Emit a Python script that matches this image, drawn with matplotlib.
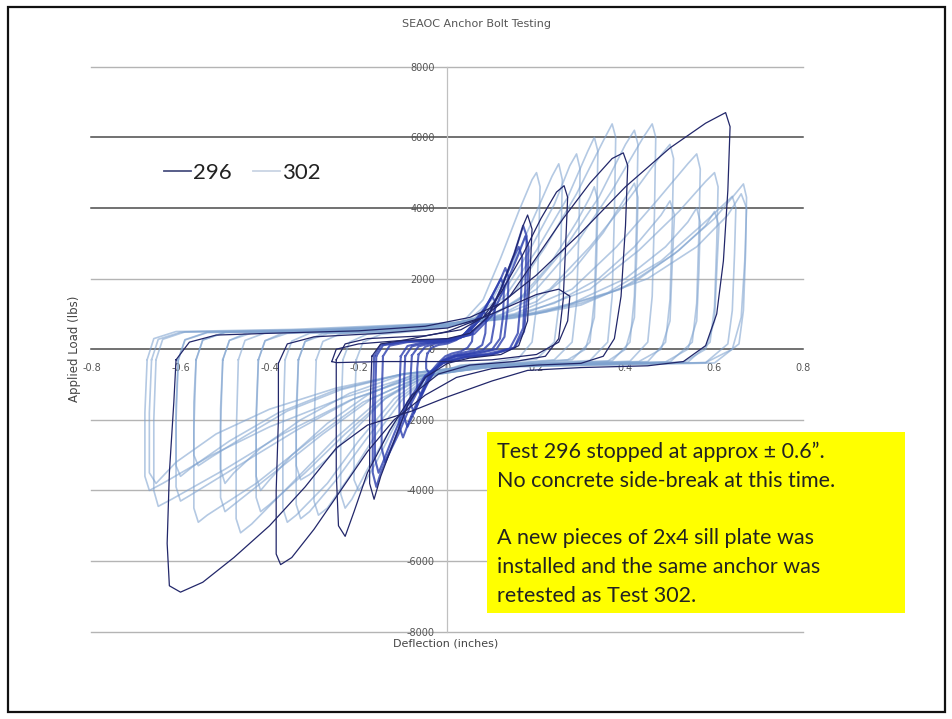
import matplotlib
matplotlib.use("Agg")
import matplotlib.pyplot as plt
from matplotlib.lines import Line2D
from matplotlib.patches import Rectangle

# ---------------- data ----------------
title = "SEAOC Anchor Bolt Testing"
x_label = "Deflection (inches)"
y_label = "Applied Load (lbs)"
x_ticks = [-0.8, -0.6, -0.4, -0.2, 0, 0.2, 0.4, 0.6, 0.8]
x_tick_labels = ["-0.8", "-0.6", "-0.4", "-0.2", "0", "0.2", "0.4", "0.6", "0.8"]
y_ticks = [-8000, -6000, -4000, -2000, 0, 2000, 4000, 6000, 8000]
y_tick_labels = ["-8000", "-6000", "-4000", "-2000", "0", "2000", "4000", "6000", "8000"]
series_names = ["296", "302"]
note_text = ("Test 296 stopped at approx \u00b1 0.6\u201d.\n"
             "No concrete side-break at this time.\n\n"
             "A new pieces of 2x4 sill plate was\n"
             "installed and the same anchor was\n"
             "retested as Test 302.")

# Test 302 : hysteresis loops (deflection in, load lbs)
test302_loops = [
    [(-0.205,-300),(-0.19,200),(-0.15,420),(-0.08,500),(0.0,620),(0.04,850),(0.08,1400),(0.12,2600),(0.16,3900),(0.19,4800),(0.2,5000),(0.208,4600),(0.205,3000),(0.2,1200),(0.19,200),(0.16,-250),(0.1,-380),(0.03,-450),(-0.02,-650),(-0.07,-1200),(-0.12,-2200),(-0.16,-3200),(-0.19,-3850),(-0.2,-4000),(-0.21,-3700),(-0.21,-2000),(-0.205,-300)],
    [(-0.235,-300),(-0.22,200),(-0.18,430),(-0.1,500),(0.0,640),(0.05,850),(0.1,1400),(0.15,2500),(0.2,3900),(0.235,4900),(0.25,5250),(0.258,4800),(0.255,3000),(0.25,1200),(0.24,200),(0.2,-280),(0.12,-380),(0.03,-470),(-0.03,-700),(-0.08,-1300),(-0.13,-2300),(-0.18,-3400),(-0.215,-4250),(-0.23,-4500),(-0.24,-4100),(-0.24,-2200),(-0.235,-300)],
    [(-0.295,-300),(-0.28,220),(-0.24,440),(-0.12,510),(0.0,650),(0.06,880),(0.12,1500),(0.18,2700),(0.24,4100),(0.275,5200),(0.29,5530),(0.298,5100),(0.295,3200),(0.29,1300),(0.28,200),(0.24,-300),(0.15,-400),(0.04,-480),(-0.04,-750),(-0.1,-1400),(-0.16,-2400),(-0.22,-3600),(-0.27,-4500),(-0.29,-4700),(-0.3,-4300),(-0.3,-2300),(-0.295,-300)],
    [(-0.335,-300),(-0.32,220),(-0.28,450),(-0.15,510),(0.0,660),(0.07,900),(0.13,1500),(0.2,2800),(0.27,4300),(0.315,5600),(0.33,6000),(0.338,5600),(0.335,3500),(0.33,1400),(0.32,200),(0.28,-300),(0.18,-400),(0.05,-480),(-0.04,-760),(-0.11,-1400),(-0.18,-2500),(-0.25,-3700),(-0.31,-4600),(-0.33,-4800),(-0.34,-4400),(-0.34,-2300),(-0.335,-300)],
    [(-0.365,-300),(-0.35,230),(-0.31,450),(-0.18,520),(0.0,670),(0.08,920),(0.15,1600),(0.22,2900),(0.29,4400),(0.35,5900),(0.37,6380),(0.378,6000),(0.375,3800),(0.37,1500),(0.36,200),(0.32,-320),(0.2,-400),(0.06,-480),(-0.05,-780),(-0.12,-1400),(-0.2,-2600),(-0.27,-3800),(-0.34,-4700),(-0.36,-4900),(-0.37,-4500),(-0.37,-2400),(-0.365,-300)],
    [(-0.425,-300),(-0.41,240),(-0.37,460),(-0.2,520),(0.0,680),(0.1,950),(0.18,1600),(0.26,2800),(0.34,4300),(0.4,5800),(0.42,6200),(0.428,5800),(0.425,3700),(0.42,1500),(0.41,200),(0.37,-330),(0.22,-410),(0.07,-480),(-0.05,-760),(-0.14,-1400),(-0.23,-2400),(-0.32,-3500),(-0.4,-4400),(-0.42,-4600),(-0.43,-4200),(-0.43,-2200),(-0.425,-300)],
    [(-0.47,-300),(-0.455,250),(-0.41,460),(-0.22,520),(0.0,690),(0.1,950),(0.2,1700),(0.29,3000),(0.37,4500),(0.44,6000),(0.46,6380),(0.468,6000),(0.465,3800),(0.46,1500),(0.45,200),(0.41,-340),(0.25,-420),(0.08,-490),(-0.05,-780),(-0.15,-1400),(-0.25,-2500),(-0.35,-3800),(-0.44,-4950),(-0.465,-5200),(-0.475,-4800),(-0.475,-2500),(-0.47,-300)],
    [(-0.505,-300),(-0.49,250),(-0.45,470),(-0.25,530),(0.0,700),(0.12,980),(0.23,1700),(0.32,2900),(0.41,4300),(0.48,5500),(0.5,5800),(0.508,5400),(0.505,3500),(0.5,1400),(0.49,200),(0.45,-350),(0.28,-420),(0.08,-490),(-0.06,-760),(-0.17,-1400),(-0.28,-2400),(-0.39,-3500),(-0.48,-4400),(-0.5,-4600),(-0.51,-4200),(-0.51,-2200),(-0.505,-300)],
    [(-0.565,-300),(-0.55,260),(-0.5,480),(-0.28,540),(0.0,710),(0.15,1000),(0.28,1700),(0.38,2900),(0.47,4200),(0.54,5250),(0.56,5530),(0.568,5100),(0.565,3300),(0.56,1300),(0.55,200),(0.5,-360),(0.3,-430),(0.09,-500),(-0.06,-780),(-0.19,-1500),(-0.31,-2600),(-0.43,-3800),(-0.54,-4700),(-0.56,-4900),(-0.57,-4500),(-0.57,-2300),(-0.565,-300)],
    [(-0.605,-300),(-0.59,270),(-0.54,480),(-0.3,540),(0.0,720),(0.17,1000),(0.32,1700),(0.43,2800),(0.52,3900),(0.58,4750),(0.6,5000),(0.608,4600),(0.605,3000),(0.6,1200),(0.59,200),(0.54,-370),(0.33,-430),(0.1,-500),(-0.07,-760),(-0.21,-1400),(-0.34,-2300),(-0.47,-3300),(-0.58,-4150),(-0.6,-4300),(-0.61,-3900),(-0.61,-2000),(-0.605,-300)],
    [(-0.655,-300),(-0.64,280),(-0.59,490),(-0.32,550),(0.0,730),(0.2,1000),(0.36,1600),(0.48,2500),(0.57,3500),(0.625,4150),(0.64,4330),(0.648,4000),(0.645,2700),(0.64,1100),(0.63,150),(0.58,-380),(0.35,-440),(0.1,-500),(-0.07,-780),(-0.22,-1450),(-0.37,-2400),(-0.5,-3400),(-0.62,-4250),(-0.65,-4450),(-0.66,-4000),(-0.66,-2000),(-0.655,-300)],
    [(-0.675,-300),(-0.66,300),(-0.61,500),(-0.35,560),(0.0,740),(0.22,1050),(0.39,1700),(0.51,2700),(0.6,3700),(0.65,4450),(0.665,4680),(0.672,4300),(0.67,2800),(0.665,1100),(0.655,150),(0.6,-390),(0.36,-450),(0.1,-510),(-0.08,-760),(-0.24,-1400),(-0.4,-2200),(-0.53,-3000),(-0.64,-3800),(-0.67,-4000),(-0.68,-3600),(-0.68,-1800),(-0.675,-300)],
    [(-0.665,-300),(-0.65,280),(-0.6,480),(-0.3,540),(0.0,700),(0.15,900),(0.3,1300),(0.45,2000),(0.56,2900),(0.63,3800),(0.66,4400),(0.672,4000),(0.668,2500),(0.66,900),(0.64,0),(0.58,-380),(0.3,-430),(0.05,-500),(-0.1,-700),(-0.25,-1100),(-0.4,-1700),(-0.52,-2400),(-0.61,-3200),(-0.655,-3800),(-0.67,-3500),(-0.67,-1800),(-0.665,-300)],
    [(-0.605,-300),(-0.59,260),(-0.54,470),(-0.28,530),(0.0,690),(0.15,880),(0.3,1250),(0.42,1900),(0.52,2800),(0.58,3500),(0.6,3900),(0.61,3500),(0.605,2200),(0.6,800),(0.58,0),(0.53,-370),(0.3,-420),(0.05,-490),(-0.1,-700),(-0.25,-1150),(-0.38,-1800),(-0.49,-2600),(-0.57,-3300),(-0.6,-3600),(-0.61,-3300),(-0.61,-1600),(-0.605,-300)],
    [(-0.505,-300),(-0.49,250),(-0.44,460),(-0.22,520),(0.0,680),(0.12,870),(0.24,1300),(0.34,2000),(0.42,2900),(0.48,3800),(0.5,4200),(0.51,3800),(0.505,2400),(0.5,800),(0.48,0),(0.43,-350),(0.25,-410),(0.05,-480),(-0.1,-720),(-0.22,-1250),(-0.33,-2000),(-0.42,-2800),(-0.48,-3500),(-0.5,-3800),(-0.51,-3400),(-0.51,-1700),(-0.505,-300)],
    [(-0.425,-300),(-0.41,240),(-0.36,450),(-0.18,510),(0.0,670),(0.1,870),(0.2,1350),(0.28,2200),(0.35,3300),(0.4,4300),(0.42,4700),(0.428,4300),(0.425,2600),(0.42,900),(0.4,0),(0.36,-340),(0.2,-400),(0.05,-470),(-0.08,-730),(-0.18,-1300),(-0.27,-2100),(-0.35,-3000),(-0.4,-3700),(-0.42,-4000),(-0.43,-3600),(-0.43,-1800),(-0.425,-300)],
    [(-0.335,-300),(-0.32,220),(-0.27,440),(-0.13,500),(0.0,650),(0.08,850),(0.16,1400),(0.23,2400),(0.29,3600),(0.32,4300),(0.33,4600),(0.338,4200),(0.335,2500),(0.33,900),(0.31,0),(0.27,-300),(0.15,-390),(0.04,-460),(-0.06,-740),(-0.14,-1400),(-0.21,-2300),(-0.27,-3100),(-0.31,-3550),(-0.33,-3700),(-0.34,-3300),(-0.34,-1700),(-0.335,-300)],
    [(-0.565,-300),(-0.55,260),(-0.5,470),(-0.26,530),(0.0,690),(0.14,880),(0.28,1300),(0.4,2000),(0.49,2900),(0.54,3600),(0.56,4000),(0.568,3600),(0.565,2200),(0.56,800),(0.54,0),(0.49,-360),(0.28,-420),(0.05,-490),(-0.1,-700),(-0.24,-1150),(-0.36,-1750),(-0.46,-2500),(-0.53,-3050),(-0.56,-3300),(-0.57,-3000),(-0.57,-1500),(-0.565,-300)],
]

# Test 296 : large cycles
test296_large_loops = [
    [(-0.61,-300),(-0.58,200),(-0.52,400),(-0.4,450),(-0.2,520),(-0.05,650),(0.05,900),(0.12,1300),(0.2,2100),(0.3,3300),(0.4,4600),(0.5,5700),(0.58,6400),(0.625,6700),(0.635,6300),(0.63,4500),(0.62,2500),(0.605,1000),(0.58,100),(0.53,-350),(0.45,-470),(0.3,-520),(0.18,-600),(0.1,-900),(0.0,-1350),(-0.08,-1750),(-0.18,-2150),(-0.25,-2800),(-0.32,-3900),(-0.4,-5000),(-0.48,-5900),(-0.55,-6600),(-0.6,-6880),(-0.625,-6700),(-0.63,-5500),(-0.625,-3500),(-0.615,-1500),(-0.61,-300)],
    [(-0.38,-400),(-0.36,150),(-0.3,350),(-0.15,450),(0.0,600),(0.08,900),(0.14,1500),(0.2,2600),(0.26,3700),(0.32,4700),(0.37,5400),(0.395,5560),(0.405,5200),(0.4,3500),(0.39,1500),(0.375,300),(0.35,-200),(0.3,-400),(0.2,-450),(0.1,-550),(0.02,-800),(-0.05,-1300),(-0.12,-2000),(-0.18,-2900),(-0.24,-4000),(-0.3,-5100),(-0.35,-5900),(-0.375,-6100),(-0.385,-5800),(-0.385,-4000),(-0.38,-2000),(-0.38,-400)],
    [(-0.25,-300),(-0.23,150),(-0.18,300),(-0.05,380),(0.03,550),(0.08,900),(0.12,1600),(0.17,2700),(0.21,3700),(0.245,4450),(0.262,4630),(0.27,4300),(0.265,2800),(0.26,1400),(0.25,300),(0.22,-200),(0.15,-350),(0.05,-450),(-0.02,-700),(-0.08,-1300),(-0.13,-2300),(-0.18,-3500),(-0.21,-4600),(-0.23,-5300),(-0.245,-5000),(-0.25,-3500),(-0.25,-1500),(-0.25,-300)],
    [(-0.17,-200),(-0.15,150),(-0.1,250),(0.0,300),(0.05,450),(0.09,900),(0.12,1700),(0.15,2700),(0.17,3500),(0.18,3800),(0.19,3400),(0.185,2000),(0.18,800),(0.16,100),(0.12,-150),(0.05,-250),(0.0,-400),(-0.05,-800),(-0.09,-1600),(-0.12,-2600),(-0.15,-3600),(-0.165,-4250),(-0.175,-3800),(-0.175,-2000),(-0.17,-200)],
    [(-0.26,-350),(-0.25,0),(-0.2,150),(-0.1,250),(0.0,500),(0.1,1000),(0.2,1550),(0.25,1700),(0.275,1500),(0.27,800),(0.25,200),(0.2,-150),(0.1,-300),(0.0,-350),(-0.15,-350),(-0.25,-380),(-0.26,-350)],
]

# Test 296 : small early cycles (dense centre)
test296_small_loops = [
    [(-0.165,-200),(-0.15,120),(-0.1,220),(0.0,280),(0.05,420),(0.09,900),(0.12,1700),(0.15,2700),(0.165,3300),(0.17,3500),(0.178,3200),(0.175,1800),(0.17,600),(0.15,50),(0.1,-150),(0.04,-230),(-0.01,-400),(-0.05,-800),(-0.09,-1600),(-0.12,-2600),(-0.15,-3500),(-0.16,-3900),(-0.168,-3500),(-0.168,-1800),(-0.165,-200)],
    [(-0.16,-200),(-0.145,110),(-0.1,210),(0.0,270),(0.06,430),(0.1,950),(0.13,1800),(0.16,2700),(0.175,3200),(0.182,2900),(0.18,1600),(0.172,500),(0.15,30),(0.1,-140),(0.04,-220),(-0.01,-380),(-0.05,-750),(-0.09,-1500),(-0.12,-2400),(-0.145,-3200),(-0.155,-3500),(-0.163,-3100),(-0.163,-1600),(-0.16,-200)],
    [(-0.145,-200),(-0.13,100),(-0.09,200),(0.0,260),(0.05,400),(0.09,900),(0.12,1700),(0.145,2500),(0.16,2900),(0.168,2600),(0.165,1400),(0.158,450),(0.14,20),(0.09,-130),(0.03,-220),(-0.01,-380),(-0.05,-780),(-0.08,-1500),(-0.11,-2400),(-0.133,-3000),(-0.14,-3200),(-0.148,-2800),(-0.148,-1400),(-0.145,-200)],
    [(-0.105,-200),(-0.09,90),(-0.06,180),(0.0,240),(0.04,380),(0.07,800),(0.1,1500),(0.12,2000),(0.13,2300),(0.137,2050),(0.135,1100),(0.128,350),(0.11,0),(0.07,-120),(0.02,-200),(-0.01,-350),(-0.04,-700),(-0.065,-1400),(-0.085,-2000),(-0.1,-2500),(-0.108,-2200),(-0.108,-1100),(-0.105,-200)],
    [(-0.095,-200),(-0.08,80),(-0.05,170),(0.0,230),(0.04,370),(0.07,800),(0.095,1400),(0.112,1800),(0.12,2000),(0.127,1800),(0.125,950),(0.118,300),(0.1,-10),(0.06,-110),(0.02,-190),(-0.01,-330),(-0.035,-650),(-0.055,-1200),(-0.075,-1800),(-0.09,-2200),(-0.098,-1900),(-0.098,-1000),(-0.095,-200)],
    [(-0.08,-180),(-0.065,80),(-0.04,160),(0.0,220),(0.03,340),(0.06,700),(0.085,1200),(0.1,1500),(0.107,1350),(0.105,700),(0.098,200),(0.08,-20),(0.05,-110),(0.015,-190),(-0.01,-320),(-0.03,-600),(-0.05,-1100),(-0.065,-1500),(-0.075,-1800),(-0.083,-1550),(-0.083,-800),(-0.08,-180)],
    [(-0.065,-150),(-0.05,70),(-0.03,150),(0.0,200),(0.03,320),(0.05,600),(0.07,950),(0.08,1100),(0.087,950),(0.085,450),(0.078,120),(0.06,-30),(0.03,-110),(0.005,-200),(-0.015,-350),(-0.03,-650),(-0.05,-1050),(-0.06,-1300),(-0.068,-1100),(-0.068,-550),(-0.065,-150)],
    [(-0.045,-120),(-0.035,50),(-0.02,120),(0.0,160),(0.02,260),(0.04,450),(0.05,600),(0.057,500),(0.055,220),(0.045,40),(0.03,-60),(0.01,-120),(-0.005,-200),(-0.02,-380),(-0.035,-600),(-0.04,-700),(-0.048,-550),(-0.048,-300),(-0.045,-120)],
]

# ---------------- styling ----------------
W, H = 953, 719
fig = plt.figure(figsize=(W / 100, H / 100), dpi=100)
fig.patch.set_facecolor("white")

ax_l, ax_r, ax_t, ax_b = 91.5, 803.5, 66.7, 631.7
ax = fig.add_axes([ax_l / W, 1 - ax_b / H, (ax_r - ax_l) / W, (ax_b - ax_t) / H])
ax.set_xlim(-0.8, 0.8)
ax.set_ylim(-8000, 8000)
ax.set_facecolor("none")

grid_dark = {6000, 4000, 0}
for yv in y_ticks:
    ax.axhline(yv, color="#4a4a4a" if yv in grid_dark else "#b4b4b4",
               lw=1.1 if yv in grid_dark else 1.0, zorder=1, clip_on=False)
ax.axvline(0, color="#c0c0c0", lw=0.9, zorder=1, clip_on=False)

c302 = "#7ea2cf"
for loop in test302_loops:
    xs = [p[0] for p in loop]
    ys = [p[1] for p in loop]
    ax.plot(xs, ys, color=c302, lw=1.2, alpha=0.58, solid_joinstyle="round", zorder=2)

for loop in test296_small_loops:
    xs = [p[0] for p in loop]
    ys = [p[1] for p in loop]
    ax.plot(xs, ys, color="#2d3fae", lw=1.5, alpha=0.8, solid_joinstyle="round", zorder=3)

for loop in test296_large_loops:
    xs = [p[0] for p in loop]
    ys = [p[1] for p in loop]
    ax.plot(xs, ys, color="#22276a", lw=0.9, solid_joinstyle="round", zorder=4)

for s in ax.spines.values():
    s.set_visible(False)
ax.spines["left"].set_position(("data", 0))
ax.spines["bottom"].set_position(("data", 0))
ax.set_xticks(x_ticks, x_tick_labels)
ax.set_yticks(y_ticks, y_tick_labels)
ax.tick_params(axis="both", length=0, labelsize=7, labelcolor="#555555")
ax.tick_params(axis="y", pad=9)
ax.tick_params(axis="x", pad=10)

fig.text(477 / W, 1 - 24 / H, title, ha="center", va="center", fontsize=8, color="#555555")
fig.text(446 / W, 1 - 643 / H, x_label, ha="center", va="center", fontsize=8, color="#444444")
fig.text(75 / W, 1 - 349 / H, y_label, ha="center", va="center", rotation=90, fontsize=8.5, color="#444444")

# legend
h296 = Line2D([], [], color="#4a5080", lw=1.3)
h302 = Line2D([], [], color="#c9d4e4", lw=1.3)
fig.legend([h296, h302], series_names, loc="center left",
           bbox_to_anchor=(153 / W, 1 - 173 / H), ncol=2, frameon=False,
           prop={"family": "Lato", "size": 16}, handlelength=1.2,
           handletextpad=0.1, columnspacing=0.95, borderpad=0, labelcolor="#222222")

# note box
fig.add_artist(Rectangle((487 / W, 1 - 613 / H), 418 / W, 181 / H,
                         transform=fig.transFigure, facecolor="#ffff00", edgecolor="none", zorder=5))
fig.text(497 / W, 1 - 442 / H, note_text, ha="left", va="top", fontsize=15.5,
         family="Lato", color="#222222", linespacing=1.54, zorder=6)

# outer frame
fig.add_artist(Rectangle((8 / W, 1 - 712 / H), 937 / W, 705 / H, transform=fig.transFigure,
                         facecolor="none", edgecolor="#111111", lw=1.6, zorder=7))

fig.savefig("out.png", dpi=100)
